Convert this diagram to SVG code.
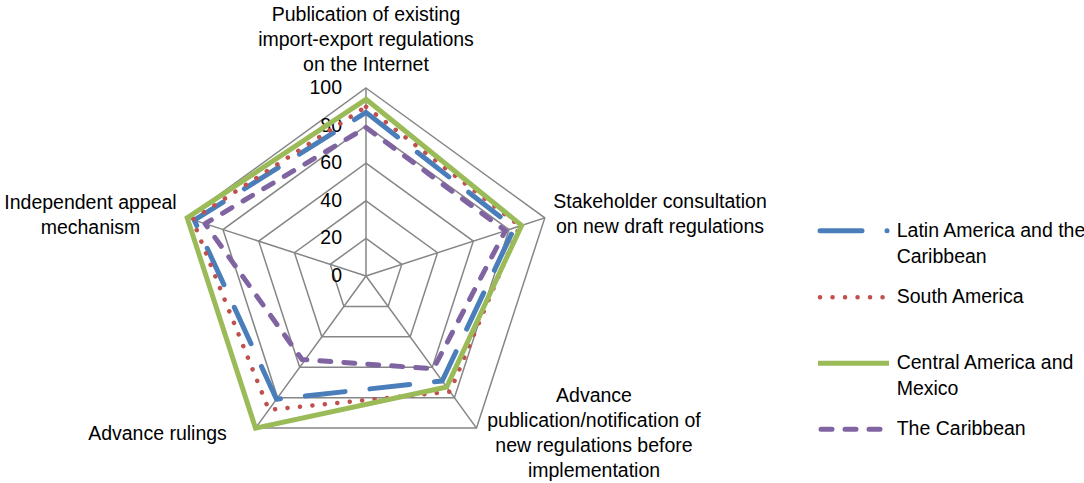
<svg xmlns="http://www.w3.org/2000/svg" width="1084" height="483" viewBox="0 0 1084 483">
<style>
text{font-family:"Liberation Sans",Arial,sans-serif;font-size:19.5px;fill:#000}
.c{text-anchor:middle}
.r{text-anchor:end}
.grid{fill:none;stroke:#868686;stroke-width:1.5}
.s{fill:none;stroke-width:5;stroke-linejoin:round;stroke-linecap:round}
.blue{stroke:#4a7ebb;stroke-dasharray:40 25}
.red{stroke:#c0504d;stroke-width:4.5;stroke-dasharray:0.1 12.4}
.green{stroke:#9bbb59;stroke-linecap:butt;stroke-linejoin:miter}
.purple{stroke:#8064a2;stroke-dasharray:11 13}
</style>
<g id="grid">
<polygon class="grid" points="366,238.4 401.76,264.38 388.1,306.42 343.9,306.42 330.24,264.38"/>
<polygon class="grid" points="366,200.8 437.52,252.76 410.2,336.84 321.8,336.84 294.48,252.76"/>
<polygon class="grid" points="366,163.2 473.28,241.14 432.3,367.26 299.7,367.26 258.72,241.14"/>
<polygon class="grid" points="366,125.6 509.04,229.52 454.4,397.68 277.6,397.68 222.96,229.52"/>
<polygon class="grid" points="366,88 544.8,217.9 476.5,428.1 255.5,428.1 187.2,217.9"/>
<path class="grid" d="M366,276L366,88M366,276L544.8,217.9M366,276L476.5,428.1M366,276L255.5,428.1M366,276L187.2,217.9"/>
</g>
<g id="axis-values">
<text class="r" x="342" y="94">100</text>
<text class="r" x="342" y="131.6">80</text>
<text class="r" x="342" y="169.2">60</text>
<text class="r" x="342" y="206.8">40</text>
<text class="r" x="342" y="244.4">20</text>
<text class="r" x="342" y="282">0</text>
</g>
<g id="series">
<polygon class="s blue" points="366,112.4 514.4,227.8 442.2,380.9 276.5,399.2 194.3,220.2"/>
<polygon class="s red" points="366,106.8 519.8,226 450,391.6 268.8,409.8 192.5,219.6"/>
<polygon class="s green" points="366,99.3 521.6,225.4 446.7,387 255.5,428.1 187.2,217.9"/>
<polygon class="s purple" points="366,127.5 505.4,230.7 433.4,368.8 302,359.5 205.1,223.7"/>
</g>
<g id="label-top">
<text class="c" x="366" y="20.5">Publication of existing</text>
<text class="c" x="366" y="45.5">import-export regulations</text>
<text class="c" x="366" y="70.5">on the Internet</text>
</g>
<g id="label-right">
<text class="c" x="660" y="208.3">Stakeholder consultation</text>
<text class="c" x="660" y="233.3">on new draft regulations</text>
</g>
<g id="label-lower-right">
<text class="c" x="594" y="401.7">Advance</text>
<text class="c" x="594" y="426.7">publication/notification of</text>
<text class="c" x="594" y="451.7">new regulations before</text>
<text class="c" x="594" y="476.7">implementation</text>
</g>
<g id="label-lower-left">
<text class="c" x="157.5" y="440">Advance rulings</text>
</g>
<g id="label-left">
<text class="c" x="90.5" y="209.3">Independent appeal</text>
<text class="c" x="90.5" y="234.3">mechanism</text>
</g>
<g id="legend">
<line x1="820" y1="230.7" x2="862" y2="230.7" stroke="#4a7ebb" stroke-width="5" stroke-linecap="round"/>
<circle cx="887" cy="230.7" r="2.5" fill="#4a7ebb"/>
<text x="896.7" y="236.7">Latin America and the</text>
<text x="896.7" y="262.7">Caribbean</text>
<line x1="820" y1="297.3" x2="884" y2="297.3" class="s red"/>
<text x="896.7" y="302.7">South America</text>
<line x1="818" y1="363.3" x2="889" y2="363.3" stroke="#9bbb59" stroke-width="5"/>
<text x="896.7" y="369.3">Central America and</text>
<text x="896.7" y="395">Mexico</text>
<line x1="821" y1="429.3" x2="883" y2="429.3" class="s purple"/>
<text x="896.7" y="435">The Caribbean</text>
</g>
</svg>
